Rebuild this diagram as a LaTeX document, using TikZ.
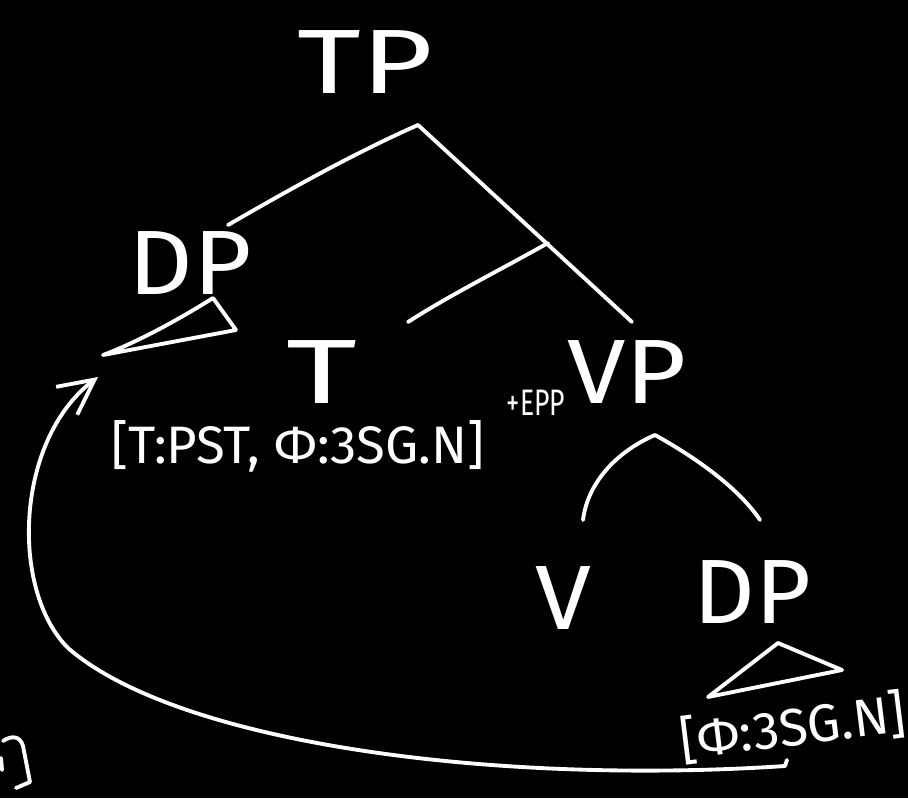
\documentclass[tikz,border=0pt]{standalone}
\usepackage{fontspec}
\setmainfont{Fira Sans}
\usetikzlibrary{arrows.meta}
\tikzset{
  chalk/.style={draw=white, line width=2.2pt, line cap=round, line join=round},
  big/.style={text=white, inner sep=0pt, font=\fontsize{52}{52}\selectfont},
  feat/.style={text=white, inner sep=0pt, font=\fontsize{30}{30}\selectfont},
  sup/.style={text=white, inner sep=0pt, font=\fontsize{21}{21}\selectfont},
}
\begin{document}
\begin{tikzpicture}[x=0.02cm, y=-0.02cm]
\fill[black] (0,0) rectangle (908,798);
\useasboundingbox (0,0) rectangle (908,798);

% labels
\node[big] (TP) at (365,62) {\scalebox{1.35}[1]{TP}};
\node[big] (DPa) at (190,263) {\scalebox{1.1}[1]{DP}};
\node[big] (T) at (322,372) {\scalebox{1.5}[1]{T}};
\node[big] (VP) at (627,372) {\scalebox{1.15}[1]{VP}};
\node[big] (V) at (563,598) {\scalebox{1.1}[1]{V}};
\node[big] (DPb) at (752,592) {\scalebox{1.05}[1]{DP}};
\node[feat] (fT) at (298,446) {[T:PST, Φ:3SG.N]};
\node[sup] (epp) at (536,403) {\scalebox{0.72}[1]{+EPP}};
\node[feat, rotate=7] (fD) at (793,727) {[Φ:3SG.N]};

% branch points
\coordinate (tpfoot) at (418,125);
\coordinate (dpatop) at (228,225);
\coordinate (vptop) at (632,322);
\coordinate (tbar) at (548,243);
\coordinate (ttop) at (408,322);
\coordinate (vpfoot) at (655,435);
\coordinate (vtop) at (583,520);
\coordinate (dpbtop) at (760,520);

% tree lines
\draw[chalk] (tpfoot) .. controls (350,155) and (280,195) .. (dpatop);
\draw[chalk] (tpfoot) -- (vptop);
\draw[chalk] (tbar) .. controls (500,270) and (450,295) .. (ttop);
\draw[chalk] (vpfoot) .. controls (620,450) and (588,480) .. (vtop);
\draw[chalk] (vpfoot) .. controls (700,460) and (740,490) .. (dpbtop);

% triangles
\coordinate (ta1) at (213,298);
\coordinate (ta2) at (103,355);
\coordinate (ta3) at (236,330);
\draw[chalk] (ta3) -- (ta1) .. controls (170,325) and (130,345) .. (ta2) -- (ta3);
\coordinate (tb1) at (778,643);
\coordinate (tb2) at (708,697);
\coordinate (tb3) at (842,670);
\draw[chalk] (tb3) -- (tb1) -- (tb2) -- (tb3);

% movement arrow
\coordinate (arrtail) at (785,766);
\coordinate (arrtip) at (98,377);
\coordinate (arrmid) at (68,648);
\draw[chalk, -{Straight Barb[length=7mm, width=7mm, line width=2.2pt]}]
  (arrtail) .. controls (500,785) and (180,745) .. (arrmid)
  .. controls (10,590) and (15,440) .. (arrtip);
\draw[chalk] (arrtail) -- (787,760);

% cut-off bracket at lower left
\draw[chalk] (3,741) .. controls (12,735) and (20,736) .. (23,746) -- (30,782) -- (16,788);
\draw[chalk] (1,758) -- (2,770);
\end{tikzpicture}
\end{document}
